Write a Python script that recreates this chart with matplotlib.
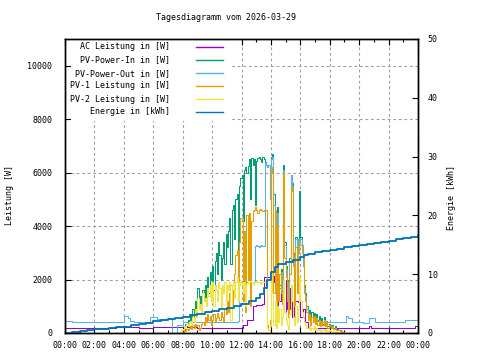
import numpy as np
import matplotlib
matplotlib.use('Agg')
from matplotlib import pyplot as plt
from matplotlib.lines import Line2D
from matplotlib.patches import Rectangle

# ---- data -------------------------------------------------------------
# daytime series on a 5 minute grid, 07:30 .. 19:00
day_start = 7.5

pv_in = [0, 0, 0, 0, 0, 0, 0, 150, 350, 250, 500, 400,
         700, 500, 900, 600, 1200, 900, 1700, 1100, 1400, 800, 1600, 1200,
         1800, 1300, 2100, 1500, 2300, 2000, 2500, 1600, 2700, 3000, 2200, 3400,
         2900, 2000, 2800, 3400, 2600, 3700, 3200, 3800, 4300, 2600, 4600, 4800,
         3500, 5000, 5200, 2800, 5500, 5800, 5900, 4200, 6100, 6200, 6000, 6250,
         6500, 5000, 6550, 6300, 6500, 4800, 6450, 6550, 6600, 6500, 6400, 6600,
         6500, 6400, 6300, 6200, 6300, 5000, 6600, 6700, 5200, 4500, 3200, 4700,
         2000, 1800, 2400, 1500, 6300, 3400, 2500, 2000, 1200, 2800, 5900, 5600,
         3000, 1800, 3600, 2400, 3500, 5300, 3600, 3300, 2600, 1800, 1500, 1000,
         600, 850, 500, 800, 600, 750, 450, 700, 500, 650, 400, 550,
         350, 600, 300, 450, 250, 350, 300, 250, 300, 200, 250, 150,
         150, 100, 100, 50, 30, 0, 0]

pv1 = [0, 0, 0, 0, 0, 0, 50, 100, 80, 150, 100, 200,
       250, 150, 300, 200, 350, 250, 300, 100, 200, 350, 400, 300,
       600, 400, 700, 500, 650, 300, 500, 700, 450, 550, 750, 600,
       500, 800, 600, 400, 900, 700, 1200, 800, 1500, 1800, 1000, 1600,
       2200, 2900, 3100, 1500, 3400, 4300, 4300, 1200, 3800, 800, 4400, 2000,
       4500, 1000, 4200, 4550, 4600, 4700, 4600, 4500, 4600, 4650, 4600, 4550,
       4600, 4600, 4600, 300, 100, 500, 6200, 6000, 1500, 4600, 800, 4000,
       1200, 2200, 1500, 1100, 6000, 2800, 2100, 1200, 600, 2200, 5500, 5300,
       2500, 1000, 3200, 1500, 3000, 3400, 3300, 3000, 2900, 1500, 1200, 800,
       500, 700, 300, 600, 400, 650, 350, 550, 300, 500, 250, 450,
       300, 500, 250, 400, 200, 300, 250, 200, 250, 150, 200, 120,
       120, 100, 80, 60, 50, 30, 0]

pv2 = [0, 0, 0, 0, 50, 100, 150, 250, 200, 350, 250, 400,
       450, 300, 600, 400, 900, 600, 1300, 900, 1100, 700, 1500, 1200,
       1300, 1000, 1700, 1400, 1800, 1200, 1900, 1000, 1800, 1600, 1200, 1900,
       1700, 900, 1800, 1500, 1900, 1200, 1800, 1600, 1900, 500, 1800, 1900,
       1300, 1900, 2100, 1200, 1900, 1800, 1900, 1500, 1900, 1000, 1850, 1900,
       1900, 1950, 1900, 1850, 1900, 1900, 1950, 1900, 1900, 1850, 1900, 1900,
       1900, 1900, 1800, 200, 100, 300, 2300, 1500, 300, 1200, 200, 1000,
       400, 900, 300, 600, 2000, 800, 500, 300, 150, 700, 1800, 1200,
       600, 300, 1000, 400, 900, 2100, 1200, 800, 600, 400, 300, 200,
       150, 250, 100, 200, 150, 250, 100, 200, 100, 150, 80, 120,
       100, 150, 80, 120, 60, 100, 80, 60, 80, 40, 60, 30,
       30, 20, 20, 10, 0, 0, 0]

pv_out_day = [0, 300, 300, 300, 300, 300, 420, 420, 420, 420, 420, 420,
              420, 410, 420, 420, 430, 420, 420, 410, 420, 420, 420, 430,
              420, 420, 410, 420, 420, 420, 430, 420, 420, 410, 420, 420,
              420, 420, 430, 420, 420, 410, 420, 420, 420, 430, 420, 420,
              420, 430, 430, 440, 1900, 1900, 1900, 1900, 1900, 1900, 1900, 1900,
              1900, 1900, 1900, 1900, 1900, 3250, 3300, 3250, 3200, 3250, 3300, 3250,
              3250, 6350, 6300, 6200, 6300, 5000, 6500, 6600, 4800, 4400, 3000, 4500,
              2000, 1700, 2300, 1400, 6100, 3300, 2400, 1900, 1100, 2700, 5900, 5500,
              2900, 1700, 3500, 2300, 3500, 3400, 3500, 3300, 2500, 1700, 1400, 900,
              650, 700, 550, 600, 550, 500, 480, 500, 450, 470, 430, 450,
              420, 480, 420, 440, 410, 420, 410, 420, 420, 410, 420, 420,
              420, 420, 420, 420, 420, 420, 420]

# PV-Power-Out outside the daytime grid
out_night_t = [0.0, 0.5, 4.0, 4.25, 4.45, 4.7, 5.8, 6.25, 7.3]
out_night_v = [460, 400, 650, 560, 460, 400, 600, 525, 0]
out_eve_t = [19.1, 19.25, 19.5, 20.25, 20.7, 21.1, 23.1, 24.0]
out_eve_v = [650, 560, 420, 390, 560, 420, 480, 480]

# AC Leistung
ac_t = [0, 1.0, 2.5, 3.5, 5.0, 6.0, 7.0, 8.0, 9.0, 10.0, 11.0, 11.9, 12.1, 12.4,
        12.8, 13.0, 13.4, 13.55, 14.1, 14.2, 14.35, 14.5, 14.7, 14.8, 15.0, 15.1,
        15.3, 15.45, 15.6, 15.85, 16.0, 16.15, 16.3, 16.5, 17.0, 18.0, 19.0, 20.7,
        20.8, 22.0, 23.8, 24.0]
ac_v = [200, 190, 200, 210, 200, 240, 230, 220, 200, 180, 180, 180, 300, 500,
        1000, 1050, 1100, 2080, 2150, 1900, 700, 1200, 1900, 800, 2000, 900,
        1700, 600, 1200, 1150, 600, 900, 400, 180, 190, 180, 180, 250,
        180, 180, 280, 280]

# Energie [kWh]
en_t = [0, 0.5, 1, 1.5, 2, 3, 3.5, 4, 4.5, 5, 5.5, 6, 6.5, 7, 7.5, 8, 8.5, 9, 9.5,
        10, 10.5, 11, 11.5, 12, 12.5, 13, 13.25, 13.5, 13.75, 14, 14.25, 14.5, 15,
        15.5, 16, 16.25, 16.5, 17, 17.5, 18, 18.5, 19, 19.5, 20, 20.5, 21, 21.5,
        22, 22.5, 23, 23.5, 24]
en_v = [0.0, 0.1, 0.35, 0.5, 0.7, 0.8, 0.95, 1.1, 1.4, 1.5, 1.7, 2.0, 2.2, 2.4,
        2.6, 2.8, 3.0, 3.3, 3.5, 3.7, 4.0, 4.2, 4.6, 5.0, 5.4, 6.0, 6.6, 7.6, 9.0,
        10.4, 11.2, 11.8, 12.1, 12.4, 12.9, 13.2, 13.5, 13.7, 13.9, 14.1, 14.3,
        14.6, 14.8, 14.9, 15.1, 15.3, 15.5, 15.7, 16.0, 16.2, 16.4, 16.7]

labels = ['AC Leistung in [W]', 'PV-Power-In in [W]', 'PV-Power-Out in [W]',
          'PV-1 Leistung in [W]', 'PV-2 Leistung in [W]', 'Energie in [kWh]']
colors = ['#9400d3', '#009e73', '#56b4e9', '#e69f00', '#f0e442', '#0072b2']
x_ticks = np.arange(0, 25, 2)
x_ticklabels = ['%02d:00' % (h % 24) for h in x_ticks]

# ---- plot -------------------------------------------------------------
plt.rcParams['font.family'] = 'DejaVu Sans Mono'
plt.rcParams['font.size'] = 6

W, H = 480, 360
fig = plt.figure(figsize=(4.8, 3.6), dpi=100)
ax = fig.add_axes([65 / W, 1 - 333 / H, (418 - 65) / W, (333 - 39) / H])
ax2 = ax.twinx()

day_t = day_start + np.arange(len(pv_in)) / 12.0
out_t = np.concatenate([out_night_t, day_t, out_eve_t])
out_v = np.concatenate([out_night_v, pv_out_day, out_eve_v])

kw = dict(lw=0.75, drawstyle='steps-post')
ax.plot(ac_t, ac_v, color=colors[0], **kw)
ax.plot(day_t, pv_in, color=colors[1], **kw)
ax.plot(out_t, out_v, color=colors[2], **kw)
ax.plot(day_t, pv1, color=colors[3], **kw)
ax.plot(day_t, pv2, color=colors[4], **kw)
ax2.plot(en_t, en_v, color=colors[5], lw=1.3, drawstyle='steps-post')

ax.set_xlim(0, 24)
ax.set_ylim(0, 11000)
ax2.set_ylim(0, 50)

ax.set_xticks(x_ticks)
ax.set_xticklabels(x_ticklabels)
ax.set_xticks(np.arange(1, 24, 2), minor=True)
ax.set_yticks(np.arange(0, 10001, 2000))
ax2.set_yticks(np.arange(0, 51, 10))

ax.tick_params(axis='x', which='both', direction='in', top=True, pad=6)
ax.tick_params(axis='x', which='major', length=4, width=0.8)
ax.tick_params(axis='x', which='minor', length=2.5, width=0.8)
ax.tick_params(axis='y', direction='in', length=4, width=0.8, pad=9)
ax2.tick_params(axis='y', direction='in', length=4, width=0.8, pad=7)

ax.grid(True, color='#a0a0a0', lw=0.8, linestyle=(0, (2.5, 2.5)))
for a in (ax, ax2):
    for s in a.spines.values():
        s.set_linewidth(1.0)

# opaque key box
ax.add_patch(Rectangle(((71 - 65) / 353, (333 - 121) / 294), (230 - 71) / 353,
                       1 - (333 - 121) / 294 - 0.004, transform=ax.transAxes,
                       facecolor='white', edgecolor='none', zorder=1.8))

rows = [46.7, 60, 73.3, 86, 99.3, 112]
for lab, col, y in zip(labels, colors, rows):
    fig.text(170 / W, 1 - y / H, lab, ha='right', va='center')
    fig.add_artist(Line2D([196 / W, 223 / W], [1 - y / H, 1 - y / H],
                          color=col, lw=1.0, transform=fig.transFigure))

fig.text(226.5 / W, 1 - 18 / H, 'Tagesdiagramm vom 2026-03-29', ha='center', va='center')
fig.text(10 / W, 1 - 195 / H, 'Leistung [W]', rotation=90, ha='center', va='center')
fig.text(452 / W, 1 - 197 / H, 'Energie [kWh]', rotation=90, ha='center', va='center')

fig.savefig('out.png', dpi=100)
